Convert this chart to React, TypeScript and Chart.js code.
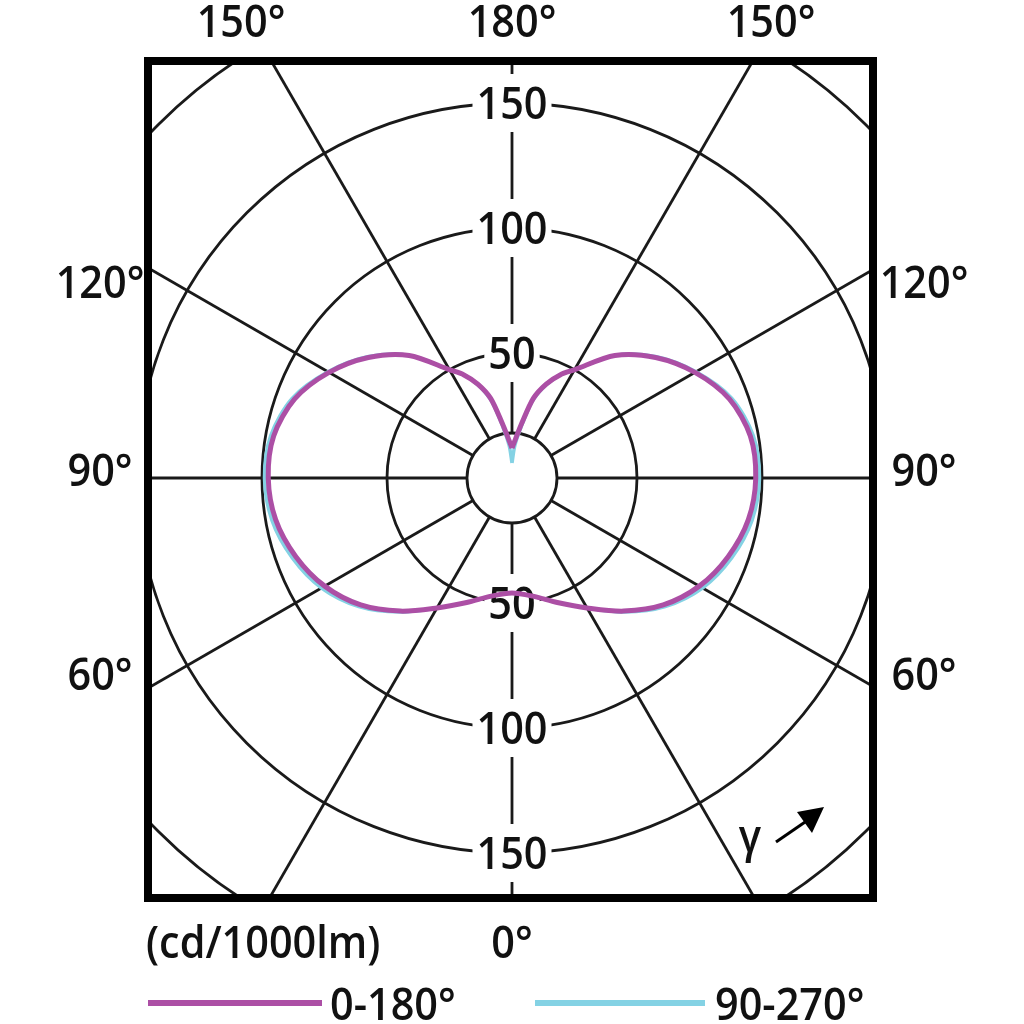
import { useEffect, useRef } from "react";
import { Chart, registerables } from "chart.js";

Chart.register(...registerables);

// Gamma angles (deg), 0 = straight down, 180 = straight up
const GAMMA = [0, 10, 20, 30, 40, 50, 60, 70, 80, 90, 100, 110, 120, 130, 140, 150, 155, 160, 165, 170, 175, 180];
// Luminous intensity (cd/1000lm), plane C0-C180
const I_C0_180 = [46, 48, 53, 60, 69.5, 79, 86.5, 92, 96, 97.5, 96.8, 92.5, 84.5, 75, 64, 50, 45.5, 40, 33, 22, 15.5, 12];
// Luminous intensity (cd/1000lm), plane C90-C270
const I_C90_270 = [46, 48, 53, 60, 70, 80, 88, 93.5, 97.5, 99, 98, 93.5, 85, 75.5, 64, 50, 45.5, 39.5, 32, 20.5, 13, 6];

const SERIES_NAMES = ["0-180°", "90-270°"];
const SERIES_COLORS = ["#ac4fa5", "#84d2e4"];

const RING_VALUES = [50, 100, 150, 200];
const RING_LABELS = ["50", "100", "150"];
const HOLE_VALUE = 18;
const SPOKE_ANGLES = [0, 30, 60, 90, 120, 150, 180, 210, 240, 270, 300, 330];

const TOP_LABELS = ["150°", "180°", "150°"];
const SIDE_LABELS = ["120°", "90°", "60°"];
const BOTTOM_LABEL = "0°";
const UNIT_LABEL = "(cd/1000lm)";
const GAMMA_LABEL = "γ";

const X_RANGE = [-145.6, 144.4];
const Y_RANGE = [-168, 166.8];

const FONT_FAMILY = '"Open Sans", "Noto Sans", sans-serif';
const FONT = `600 45px ${FONT_FAMILY}`;
const SX = 0.92;

function polarToPoints(gammas: number[], values: number[]) {
  const pts: { x: number; y: number }[] = [];
  // C180 half (left), from top down to 0
  for (let k = gammas.length - 1; k >= 0; k--) {
    const g = (gammas[k] * Math.PI) / 180;
    pts.push({ x: -values[k] * Math.sin(g), y: -values[k] * Math.cos(g) });
  }
  // C0 half (right), from 0 up to top
  for (let k = 1; k < gammas.length; k++) {
    const g = (gammas[k] * Math.PI) / 180;
    pts.push({ x: values[k] * Math.sin(g), y: -values[k] * Math.cos(g) });
  }
  return pts;
}

function drawText(ctx: CanvasRenderingContext2D, text: string, x: number, y: number, align: CanvasTextAlign = "left", baseline: CanvasTextBaseline = "alphabetic") {
  ctx.save();
  ctx.translate(x, y);
  ctx.scale(SX, 1);
  ctx.textAlign = align;
  ctx.textBaseline = baseline;
  ctx.fillText(text, 0, 0);
  ctx.restore();
}

const polarPlugin = {
  id: "polarGrid",
  beforeDatasetsDraw(chart: any) {
    const { ctx, chartArea: a, scales } = chart;
    const xs = scales.x;
    const ys = scales.y;
    const cx = xs.getPixelForValue(0);
    const cy = ys.getPixelForValue(0);
    const rad = (v: number) => xs.getPixelForValue(v) - cx;

    ctx.save();
    ctx.beginPath();
    ctx.rect(a.left, a.top, a.right - a.left, a.bottom - a.top);
    ctx.clip();
    ctx.strokeStyle = "#1a1a1a";
    ctx.lineWidth = 2.8;

    RING_VALUES.forEach((v) => {
      ctx.beginPath();
      ctx.arc(cx, cy, rad(v), 0, Math.PI * 2);
      ctx.stroke();
    });

    const r0 = rad(HOLE_VALUE);
    const r1 = rad(400);
    SPOKE_ANGLES.forEach((deg) => {
      const g = (deg * Math.PI) / 180;
      ctx.beginPath();
      ctx.moveTo(cx + r0 * Math.sin(g), cy + r0 * Math.cos(g));
      ctx.lineTo(cx + r1 * Math.sin(g), cy + r1 * Math.cos(g));
      ctx.stroke();
    });

    ctx.beginPath();
    ctx.arc(cx, cy, r0, 0, Math.PI * 2);
    ctx.fillStyle = "#ffffff";
    ctx.fill();
    ctx.stroke();

    // ring labels with white boxes, above and below center
    ctx.font = FONT;
    RING_LABELS.forEach((lab, i) => {
      const r = rad(RING_VALUES[i]);
      const w = ctx.measureText(lab).width * SX + 8;
      [cy - r, cy + r].forEach((py) => {
        ctx.fillStyle = "#ffffff";
        ctx.fillRect(cx - w / 2, py - 29, w, 58);
        ctx.fillStyle = "#111111";
        drawText(ctx, lab, cx, py + 16, "center");
      });
    });
    ctx.restore();
  },
  afterDraw(chart: any) {
    const { ctx, chartArea: a } = chart;
    ctx.save();
    // frame
    ctx.strokeStyle = "#000000";
    ctx.lineWidth = 8;
    ctx.strokeRect(a.left, a.top, a.right - a.left, a.bottom - a.top);

    ctx.fillStyle = "#111111";
    ctx.font = FONT;
    // top labels
    drawText(ctx, TOP_LABELS[0], 241, a.top - 24, "center");
    drawText(ctx, TOP_LABELS[1], 512, a.top - 24, "center");
    drawText(ctx, TOP_LABELS[2], 771, a.top - 24, "center");
    // side labels
    const sideY = [298, 486, 690];
    SIDE_LABELS.forEach((lab, i) => {
      drawText(ctx, lab, 100, sideY[i], "center");
      drawText(ctx, lab, 924, sideY[i], "center");
    });
    // bottom
    drawText(ctx, BOTTOM_LABEL, 512, a.bottom + 60, "center");
    drawText(ctx, UNIT_LABEL, a.left - 2, a.bottom + 60, "left");

    // gamma + arrow
    drawText(ctx, GAMMA_LABEL, 750, 852, "center");
    ctx.strokeStyle = "#000000";
    ctx.lineWidth = 3;
    ctx.beginPath();
    ctx.moveTo(776, 842);
    ctx.lineTo(808, 820);
    ctx.stroke();
    ctx.fillStyle = "#000000";
    ctx.beginPath();
    ctx.moveTo(824, 807);
    ctx.lineTo(797, 812);
    ctx.lineTo(812, 833);
    ctx.closePath();
    ctx.fill();

    // legend
    const legY = 1003;
    const legItems = [
      { x0: 148, x1: 322, tx: 330 },
      { x0: 535, x1: 705, tx: 715 },
    ];
    legItems.forEach((it, i) => {
      ctx.strokeStyle = SERIES_COLORS[i];
      ctx.lineWidth = 6;
      ctx.beginPath();
      ctx.moveTo(it.x0, legY);
      ctx.lineTo(it.x1, legY);
      ctx.stroke();
      ctx.fillStyle = "#111111";
      drawText(ctx, SERIES_NAMES[i], it.tx, 1020, "left");
    });
    ctx.restore();
  },
};

export default function App() {
  const ref = useRef<HTMLCanvasElement>(null);
  useEffect(() => {
    if (!ref.current) return;
    // Chart.js paints dataset 0 last (on top), so the 0-180° curve is listed first.
    const chart = new Chart(ref.current, {
      type: "scatter",
      data: {
        datasets: [
          {
            label: SERIES_NAMES[0],
            data: polarToPoints(GAMMA, I_C0_180),
            showLine: true,
            borderColor: SERIES_COLORS[0],
            borderWidth: 5,
            pointRadius: 0,
            tension: 0.3,
            fill: false,
          },
          {
            label: SERIES_NAMES[1],
            data: polarToPoints(GAMMA, I_C90_270),
            showLine: true,
            borderColor: SERIES_COLORS[1],
            borderWidth: 3.5,
            pointRadius: 0,
            tension: 0.3,
            fill: false,
          },
        ],
      },
      options: {
        responsive: false,
        animation: false,
        devicePixelRatio: 1,
        layout: { padding: { left: 148, right: 151, top: 61, bottom: 126 } },
        scales: {
          x: { type: "linear", min: X_RANGE[0], max: X_RANGE[1], display: false },
          y: { type: "linear", min: Y_RANGE[0], max: Y_RANGE[1], display: false },
        },
        plugins: { legend: { display: false }, tooltip: { enabled: false } },
      },
      plugins: [polarPlugin],
    });
    return () => chart.destroy();
  }, []);
  return (
    <div style={{ position: "fixed", left: 0, top: 0, width: 1024, height: 1024, background: "#fff" }}>
      <canvas ref={ref} width={1024} height={1024} style={{ display: "block" }} />
    </div>
  );
}
